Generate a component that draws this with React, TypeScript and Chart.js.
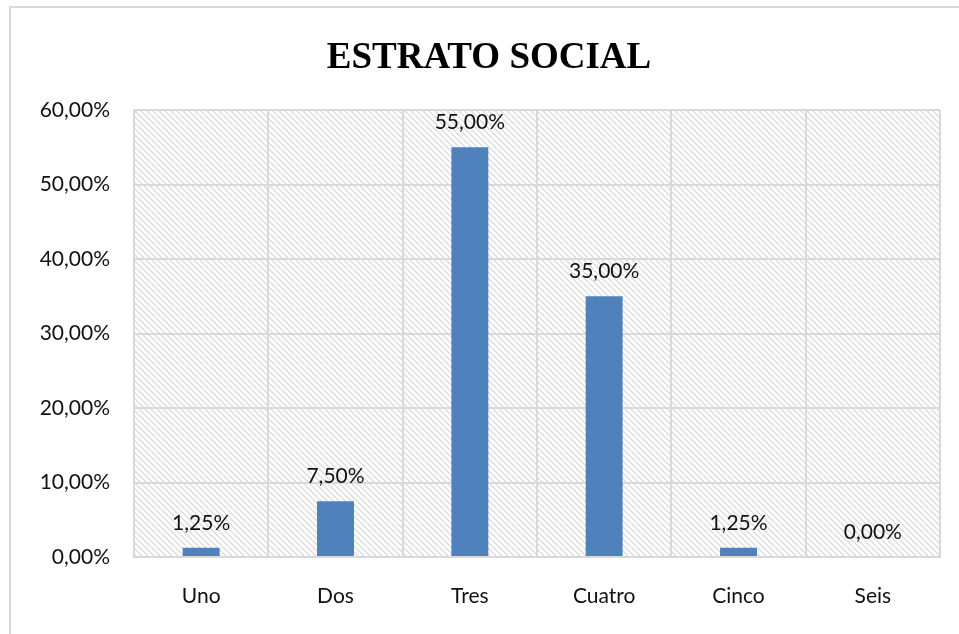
import React, { useEffect, useRef } from "react";
import { Chart, registerables } from "chart.js";

Chart.register(...registerables);

const categories = ["Uno", "Dos", "Tres", "Cuatro", "Cinco", "Seis"];
const values = [1.25, 7.5, 55, 35, 1.25, 0];
const titleText = "ESTRATO SOCIAL";
const yMax = 60;
const yStep = 10;

const fmt = (v: number) => v.toFixed(2).replace(".", ",") + "%";

const FONT = "Lato";
const GRID = "#D9D9D9";

function makeHatch(): CanvasPattern | string {
  const c = document.createElement("canvas");
  c.width = 6;
  c.height = 6;
  const g = c.getContext("2d");
  if (!g) return "#fff";
  g.fillStyle = "#fff";
  g.fillRect(0, 0, 6, 6);
  g.strokeStyle = "#DCDCDC";
  g.lineWidth = 1.4;
  for (const a of [-6, 0, 6]) {
    g.beginPath();
    g.moveTo(a, 0);
    g.lineTo(a + 6, 6);
    g.stroke();
  }
  const p = g.createPattern(c, "repeat");
  return p || "#fff";
}

export default function App() {
  const ref = useRef<HTMLCanvasElement | null>(null);

  useEffect(() => {
    if (!ref.current) return;
    const hatch = makeHatch();

    const decor = {
      id: "decor",
      beforeDraw(chart: any) {
        const ctx = chart.ctx;
        const a = chart.chartArea;
        ctx.save();
        ctx.fillStyle = "#fff";
        ctx.fillRect(0, 0, chart.width, chart.height);
        // outer border
        ctx.strokeStyle = GRID;
        ctx.lineWidth = 2;
        ctx.beginPath();
        ctx.moveTo(10, chart.height);
        ctx.lineTo(10, 7);
        ctx.lineTo(chart.width, 7);
        ctx.stroke();
        // hatch in plot area
        ctx.fillStyle = hatch as any;
        ctx.fillRect(a.left, a.top, a.right - a.left, a.bottom - a.top);
        // title
        ctx.fillStyle = "#000";
        ctx.font = "bold 37px 'Liberation Serif'";
        ctx.textAlign = "center";
        ctx.textBaseline = "alphabetic";
        ctx.fillText(titleText, 489, 68);
        ctx.restore();
      },
      afterDatasetsDraw(chart: any) {
        const ctx = chart.ctx;
        const meta = chart.getDatasetMeta(0);
        ctx.save();
        ctx.fillStyle = "#111";
        ctx.font = `21px ${FONT}`;
        ctx.textAlign = "center";
        ctx.textBaseline = "alphabetic";
        meta.data.forEach((el: any, i: number) => {
          ctx.fillText(fmt(values[i]), el.x, el.y - 18);
        });
        ctx.restore();
      },
    };

    const chart = new Chart(ref.current, {
      type: "bar",
      data: {
        labels: categories,
        datasets: [
          {
            data: values,
            backgroundColor: "#4F81BD",
            borderWidth: 0,
            barPercentage: 1,
            categoryPercentage: 0.275,
          },
        ],
      },
      options: {
        responsive: false,
        animation: false,
        devicePixelRatio: 1,
        layout: { padding: { top: 110, right: 19, bottom: 0, left: 0 } },
        plugins: {
          legend: { display: false },
          title: { display: false },
          tooltip: { enabled: false },
        },
        scales: {
          x: {
            afterFit(scale: any) {
              scale.height = 77;
            },
            grid: {
              display: true,
              offset: true,
              color: GRID,
              lineWidth: 2,
              drawTicks: false,
            },
            border: { display: true, color: GRID, width: 2 },
            ticks: {
              padding: 27,
              color: "#111",
              font: { family: FONT, size: 21 },
            },
          },
          y: {
            min: 0,
            max: yMax,
            afterFit(scale: any) {
              scale.width = 134;
            },
            grid: {
              color: GRID,
              lineWidth: 2,
              drawTicks: false,
            },
            border: { display: true, color: GRID, width: 2 },
            ticks: {
              stepSize: yStep,
              padding: 24,
              color: "#111",
              font: { family: FONT, size: 21 },
              callback: (v: any) => fmt(Number(v)),
            },
          },
        },
      },
      plugins: [decor],
    });

    return () => chart.destroy();
  }, []);

  return (
    <div style={{ position: "fixed", left: 0, top: 0, width: 959, height: 634, background: "#fff" }}>
      <canvas ref={ref} width={959} height={634} style={{ display: "block" }} />
    </div>
  );
}
